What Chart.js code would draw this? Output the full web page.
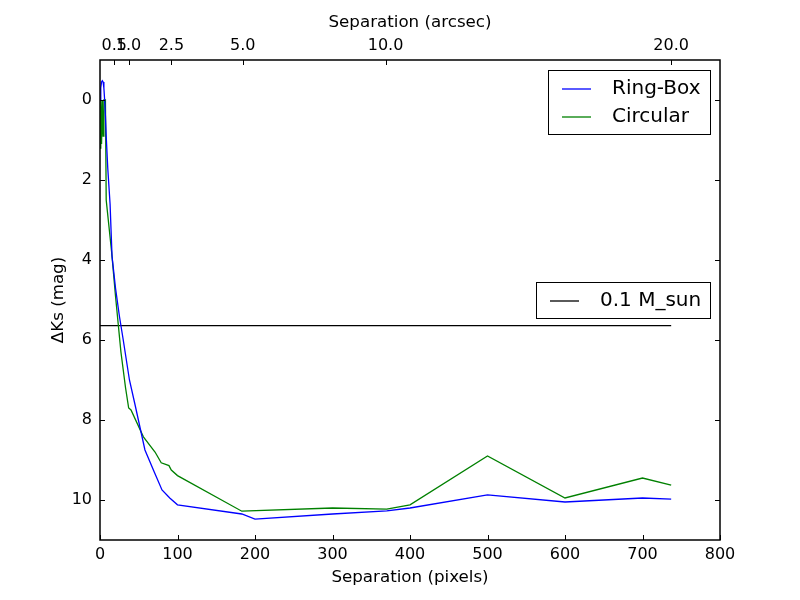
<!DOCTYPE html>
<html>
<head>
<meta charset="utf-8">
<script src="https://cdn.jsdelivr.net/npm/chart.js@4.4.0/dist/chart.umd.min.js"></script>
<style>
html,body{margin:0;padding:0;background:#fff;}
#wrap{width:800px;height:600px;}
</style>
</head>
<body>
<div id="wrap"><canvas id="c" width="800" height="600"></canvas></div>
<script>
// ---- data ----
const ringBoxSep = [0,1,2,3,4,5,6,7,8,10,13,15.5,20,25,30,38,45,58,70,80,90,100,183,200,300,370,400,500,600,700,737];
const ringBoxMag = [0.0,-0.3,-0.45,-0.48,-0.45,-0.3,0.0,0.4,0.9,1.7,2.6,3.9,4.7,5.4,6.0,7.0,7.6,8.75,9.3,9.75,9.95,10.12,10.35,10.48,10.35,10.27,10.2,9.87,10.05,9.95,9.98];
const circularSep = [0,1,2,3,4,5,6,7,8,15,20,27,33,37,40,56,71,79,89,92,100,183,300,370,400,500,600,700,737];
const circularMag = [1.2,0.0,1.1,0.0,0.9,0.0,0.0,0.0,2.5,3.8,4.9,6.3,7.2,7.7,7.75,8.42,8.8,9.07,9.14,9.25,9.39,10.28,10.2,10.23,10.12,8.9,9.95,9.45,9.63];
const limitSep = [0,737];
const limitMag = [5.64,5.64];
const pixelTicks = [0,100,200,300,400,500,600,700,800];
const magTicks = [0,2,4,6,8,10];
const arcsecTicks = [0.5,1.0,2.5,5.0,10.0,20.0];
const plateScale = 0.02714; // arcsec per pixel

const pts = (xs, ys) => xs.map((x, i) => ({x: x, y: ys[i]}));

Chart.defaults.font.family = "'DejaVu Sans', sans-serif";
Chart.defaults.font.size = 16;
Chart.defaults.color = '#000';

const framePlugin = {
  id: 'frame',
  afterDraw(chart) {
    const ctx = chart.ctx;
    const a = chart.chartArea;
    const sx = chart.scales.x, sy = chart.scales.y, st = chart.scales.xTop;
    ctx.save();
    ctx.strokeStyle = '#000';
    ctx.lineWidth = 1;
    const L = 5;
    ctx.beginPath();
    pixelTicks.forEach(v => {
      const p = Math.round(sx.getPixelForValue(v)) + 0.5;
      ctx.moveTo(p, a.bottom); ctx.lineTo(p, a.bottom - L);
    });
    arcsecTicks.forEach(v => {
      const p = Math.round(st.getPixelForValue(v)) + 0.5;
      ctx.moveTo(p, a.top); ctx.lineTo(p, a.top + L);
    });
    magTicks.forEach(v => {
      const p = Math.round(sy.getPixelForValue(v)) + 0.5;
      ctx.moveTo(a.left, p); ctx.lineTo(a.left + L, p);
      ctx.moveTo(a.right, p); ctx.lineTo(a.right - L, p);
    });
    ctx.stroke();
    ctx.lineWidth = 1.5;
    ctx.strokeRect(a.left, a.top, a.right - a.left, a.bottom - a.top);
    const ds = chart.data.datasets;
    function legend(items, right, top, boxW, rowH) {
      const h = rowH * items.length + 8;
      const left = right - boxW;
      ctx.fillStyle = '#fff';
      ctx.fillRect(left, top, boxW, h);
      ctx.lineWidth = 1;
      ctx.strokeStyle = '#000';
      ctx.strokeRect(left + 0.5, top + 0.5, boxW, h);
      ctx.font = "20px 'DejaVu Sans', sans-serif";
      ctx.textBaseline = 'middle';
      ctx.textAlign = 'left';
      items.forEach((d, i) => {
        const y = top + 4 + rowH * (i + 0.5) + 1;
        ctx.strokeStyle = d.borderColor;
        ctx.lineWidth = 1.3;
        ctx.beginPath();
        ctx.moveTo(left + 14, y); ctx.lineTo(left + 43, y);
        ctx.stroke();
        ctx.fillStyle = '#000';
        ctx.fillText(d.label, left + 64, y);
      });
    }
    legend([ds[0], ds[1]], a.right - 10, a.top + 10, 162, 28);
    legend([ds[2]], a.right - 10, a.top + 222, 174, 28);
    ctx.restore();
  }
};

new Chart(document.getElementById('c'), {
  type: 'line',
  data: {
    datasets: [
      {label: 'Ring-Box', data: pts(ringBoxSep, ringBoxMag), borderColor: '#0000ff', borderWidth: 1.3, pointRadius: 0, tension: 0, fill: false, xAxisID: 'x', yAxisID: 'y'},
      {label: 'Circular', data: pts(circularSep, circularMag), borderColor: '#008000', borderWidth: 1.3, pointRadius: 0, tension: 0, fill: false, xAxisID: 'x', yAxisID: 'y'},
      {label: '0.1 M_sun', data: pts(limitSep, limitMag), borderColor: '#000000', borderWidth: 1.3, pointRadius: 0, tension: 0, fill: false, xAxisID: 'x', yAxisID: 'y'}
    ]
  },
  options: {
    responsive: false,
    animation: false,
    layout: {padding: {right: 80, left: 45, top: 9, bottom: 8}},
    plugins: {legend: {display: false}, tooltip: {enabled: false}},
    scales: {
      x: {
        type: 'linear', position: 'bottom', min: 0, max: 800,
        afterBuildTicks: s => { s.ticks = pixelTicks.map(v => ({value: v})); },
        afterFit: s => { s.height = 52; },
        grid: {display: false, drawTicks: false},
        border: {display: false},
        ticks: {padding: 5, maxRotation: 0, callback: v => String(v)},
        title: {display: true, text: 'Separation (pixels)', font: {size: 16.7}, padding: {top: 4}}
      },
      xTop: {
        type: 'linear', position: 'top', min: 0, max: 800 * plateScale,
        afterBuildTicks: s => { s.ticks = arcsecTicks.map(v => ({value: v})); },
        afterFit: s => { s.height = 51; },
        grid: {display: false, drawTicks: false},
        border: {display: false},
        ticks: {padding: 5, maxRotation: 0, autoSkip: false, callback: v => v.toFixed(1)},
        title: {display: true, text: 'Separation (arcsec)', font: {size: 16.7}, padding: {bottom: 2}}
      },
      y: {
        type: 'linear', position: 'left', min: -1, max: 11, reverse: true,
        afterBuildTicks: s => { s.ticks = magTicks.map(v => ({value: v})); },
        afterFit: s => { s.width = 55; },
        grid: {display: false, drawTicks: false},
        border: {display: false},
        ticks: {padding: 8, callback: v => String(v)},
        title: {display: true, text: 'ΔKs (mag)', font: {size: 16.7}, padding: {bottom: 2}}
      }
    }
  },
  plugins: [framePlugin]
});
</script>
</body>
</html>
